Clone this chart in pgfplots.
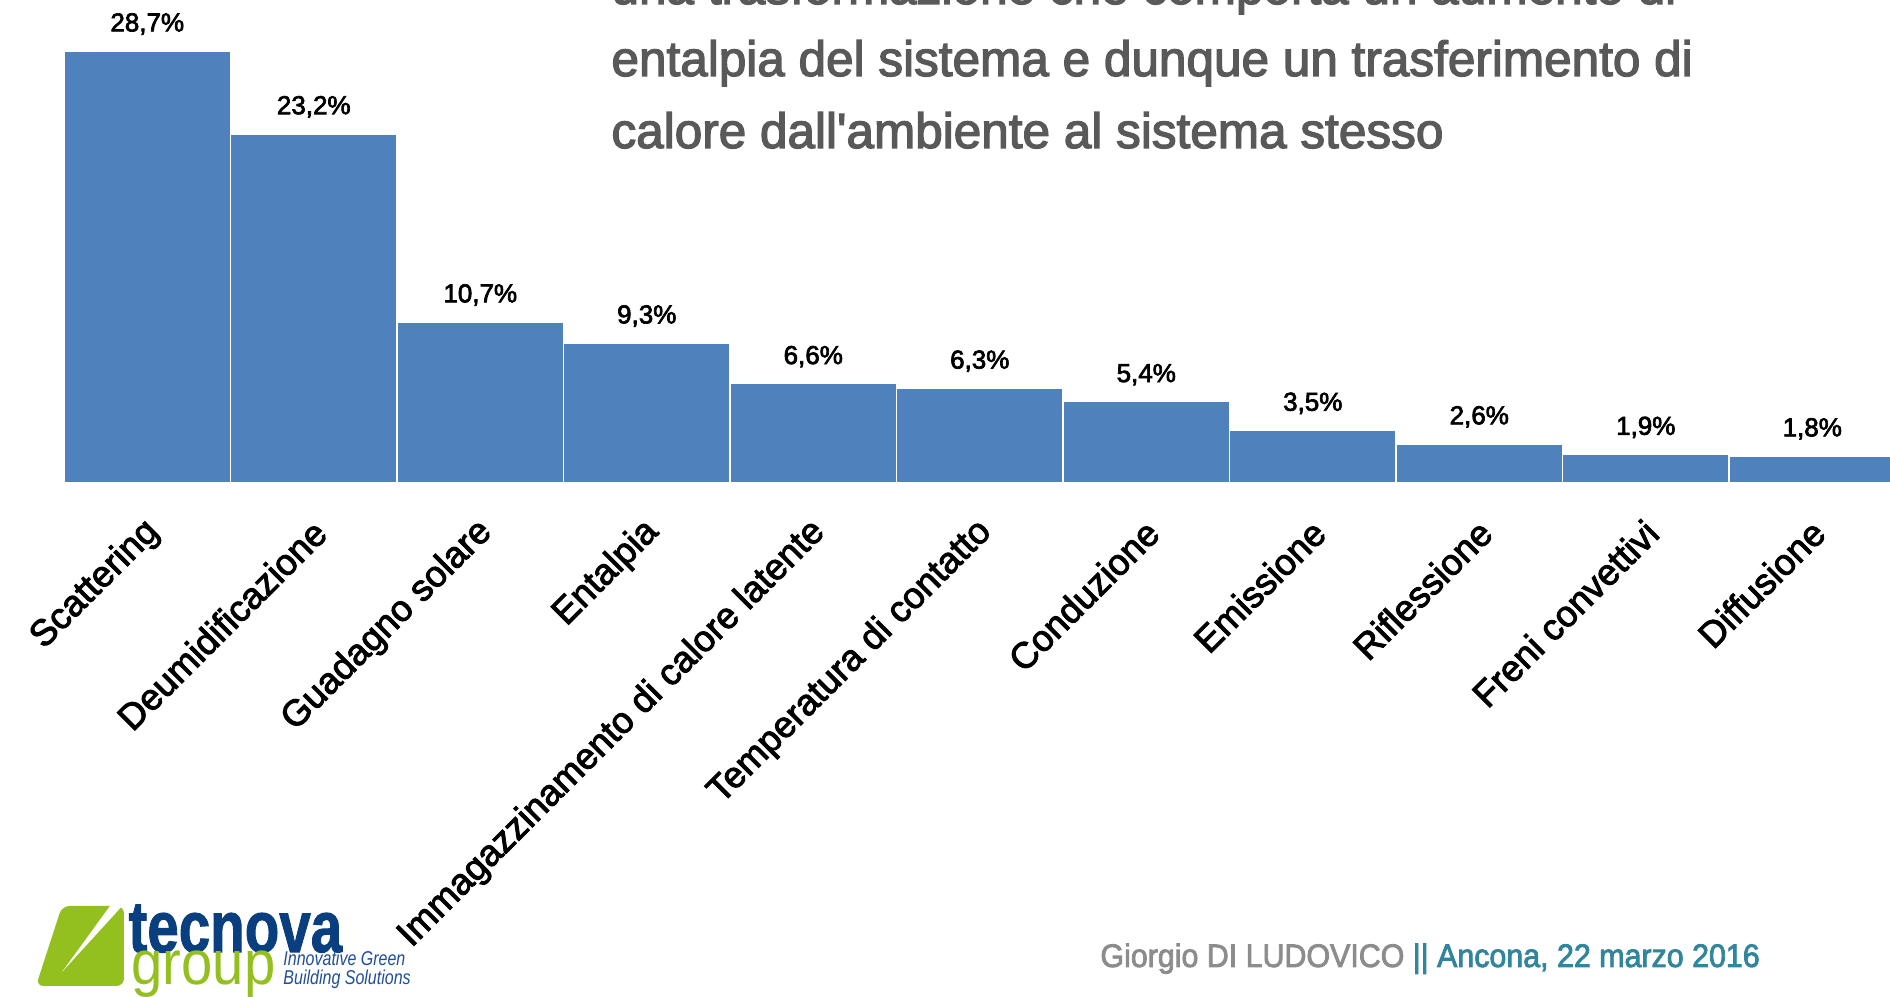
\documentclass[border=0pt]{standalone}
\usepackage{pgfplots}
\pgfplotsset{compat=1.18}
\usepackage{fontspec}
\setmainfont{Liberation Sans}
\newfontfamily\fgm{Liberation Sans}[FakeBold=2.6]
\newfontfamily\fgb{Liberation Sans Bold}[FakeBold=1.5]
\definecolor{barblue}{HTML}{4F81BD}
\definecolor{titlegray}{HTML}{595959}
\definecolor{footgray}{HTML}{8C8C8C}
\definecolor{footteal}{HTML}{31859C}
\definecolor{logogreen}{HTML}{93C01F}
\definecolor{logoblue}{HTML}{0A3F7F}
\definecolor{logoblue2}{HTML}{1F4E9A}
\begin{document}
\begin{tikzpicture}
\useasboundingbox (0,0) rectangle (756bp,398.8bp);
\clip (0,0) rectangle (756bp,398.8bp);
\begin{axis}[
  at={(25.6bp,205.6bp)}, anchor=south west,
  scale only axis, width=732.6bp, height=172.8bp,
  xmin=-0.5, xmax=10.5, ymin=0, ymax=28.7,
  axis x line*=bottom, axis y line=none,
  x axis line style={draw=black!25, line width=0.8bp, -},
  ytick=\empty,
  xtick={0,...,10},
  xticklabels={Scattering,Deumidificazione,Guadagno solare,Entalpia,Immagazzinamento di calore latente,Temperatura di contatto,Conduzione,Emissione,Riflessione,Freni convettivi,Diffusione},
  major tick length=0pt,
  xticklabel style={xshift=5bp, yshift=-15bp, rotate=45, anchor=east, font=\fgm\fontsize{14.6bp}{18bp}\selectfont, text=black},
  ybar, bar width=66.6bp,
  nodes near coords={\pgfmathprintnumber{\pgfplotspointmeta}\%},
  every node near coord/.append style={font=\fgm\fontsize{10.4bp}{12bp}\selectfont, text=black, anchor=center, yshift=10.8bp},
  /pgf/number format/.cd, use comma, fixed, fixed zerofill, precision=1, assume math mode=true,
  /pgfplots/.cd,
  clip=false,
]
\addplot[fill=barblue, draw=white, line width=0.6bp] coordinates {
(0,28.7) (1,23.2) (2,10.7) (3,9.3) (4,6.6) (5,6.3) (6,5.4) (7,3.5) (8,2.6) (9,1.9) (10,1.8)};
\end{axis}
\begin{scope}[x=0.4bp,y=-0.4bp,shift={(0,398.8bp)}]
  % title lines
  \node[anchor=base west, inner sep=0, text=titlegray, font=\fgm\fontsize{19.8bp}{24bp}\selectfont] at (611,4) {una trasformazione che comporta un aumento di};
  \node[anchor=base west, inner sep=0, text=titlegray, font=\fgm\fontsize{19.8bp}{24bp}\selectfont] at (611,76) {entalpia del sistema e dunque un trasferimento di};
  \node[anchor=base west, inner sep=0, text=titlegray, font=\fgm\fontsize{19.8bp}{24bp}\selectfont] at (611,148) {calore dall'ambiente al sistema stesso};
  % footer
  \node[anchor=base west, inner sep=0, font=\fgm\fontsize{13bp}{15bp}\selectfont] at (1100,967) {\scalebox{0.935}[1]{\textcolor{footgray}{Giorgio DI LUDOVICO }\textcolor{footteal}{|| Ancona, 22 marzo 2016}}};
  % logo
  \fill[logogreen, rounded corners=3] (62,906) -- (124,906) -- (124,986) -- (36,986) -- cycle;
  \fill[white] (124,904) -- (110,906) -- (62,972) -- cycle;
  \node[anchor=base west, inner sep=0, text=logoblue, font=\fgb\fontsize{29bp}{30bp}\selectfont] at (128,952) {\scalebox{0.78}[1]{tecnova}};
  \node[anchor=base west, inner sep=0, text=logogreen, font=\fontsize{25bp}{27bp}\selectfont] at (131,985) {\scalebox{0.9}[1]{group}};
  \node[anchor=base west, inner sep=0, text=logoblue2, font=\itshape\fontsize{8bp}{9bp}\selectfont] at (283,966) {\scalebox{0.8}[1]{Innovative Green}};
  \node[anchor=base west, inner sep=0, text=logoblue2, font=\itshape\fontsize{8bp}{9bp}\selectfont] at (283,985) {\scalebox{0.8}[1]{Building Solutions}};
\end{scope}
\end{tikzpicture}
\end{document}
